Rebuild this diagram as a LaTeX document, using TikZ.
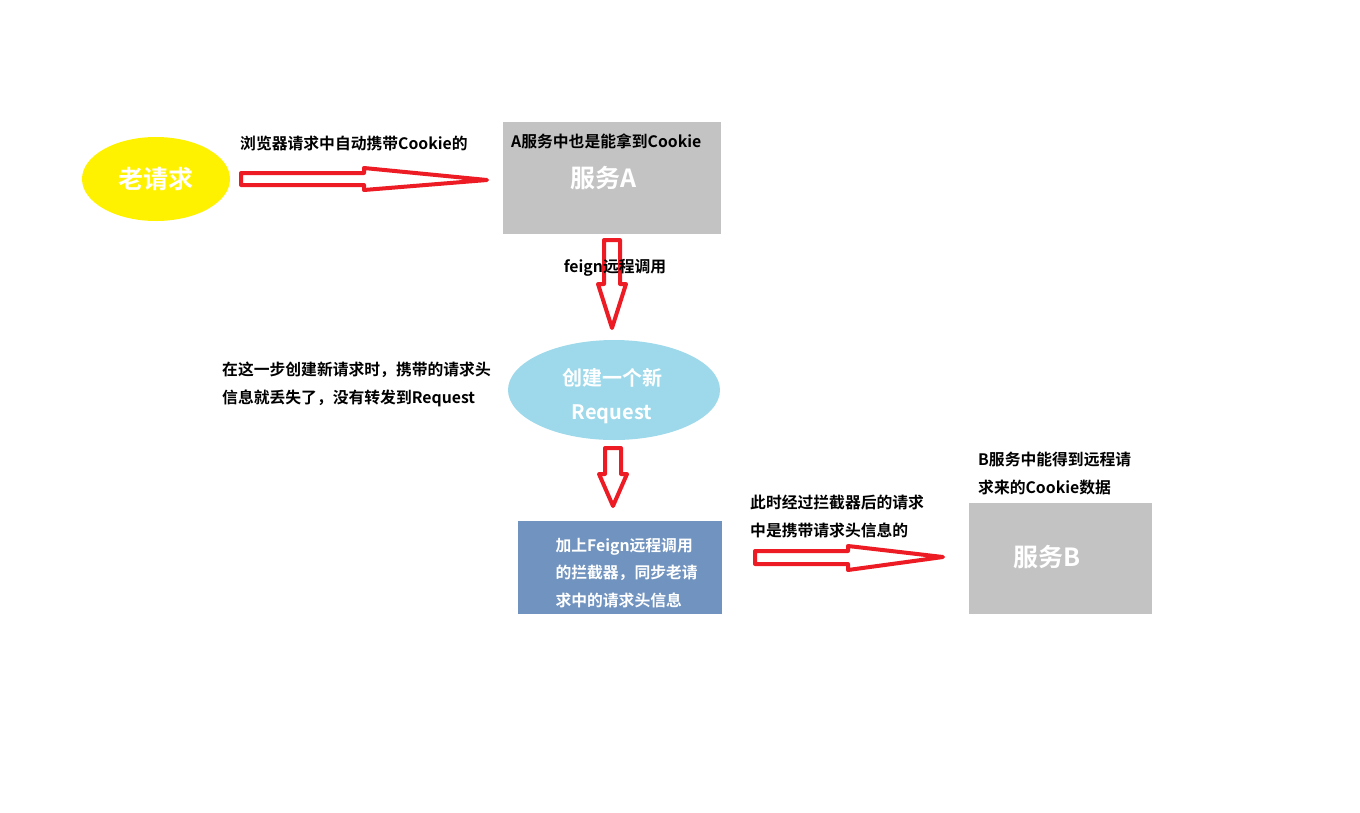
\documentclass[tikz,border=0pt]{standalone}
\usepackage{fontspec}
\usetikzlibrary{shapes.geometric}
\setmainfont{Noto Sans CJK SC}[BoldFont={Noto Sans CJK SC Bold}]
\definecolor{rr}{HTML}{ED1C24}
\definecolor{gA}{HTML}{C3C3C3}
\definecolor{yy}{HTML}{FFF200}
\definecolor{lb}{HTML}{9DD9EA}
\definecolor{sb}{HTML}{7193BF}
\begin{document}
\begin{tikzpicture}[x=1pt,y=-1pt,
  fat/.style={draw=rr,line width=4pt,line join=round,fill=white},
  lab/.style={font=\bfseries\fontsize{15.8}{27.5}\selectfont,text=black,align=left,inner sep=0pt},
  big/.style={font=\bfseries\fontsize{25}{28}\selectfont,text=white},
  mid/.style={font=\bfseries\fontsize{20}{34}\selectfont,text=white,align=center},
  small/.style={font=\bfseries\fontsize{15.8}{27.5}\selectfont,text=white,align=left}]
\useasboundingbox (0,0) rectangle (1360,812);
\node[ellipse,fill=yy,minimum width=148,minimum height=84,inner sep=0] (old) at (156,179) {};
\node[big] at (old) {老请求};
\node[fill=gA,minimum width=218,minimum height=112,inner sep=0] (A) at (612,178) {};
\node[big] at (604,178) {服务A};
\node[lab,anchor=west] at (511,141) {A服务中也是能拿到Cookie};
\node[lab,anchor=west] at (240,143) {浏览器请求中自动携带Cookie的};
\draw[fat] (241,173) -- (364,173) -- (364,168) -- (487,180) -- (364,190) -- (364,185) -- (241,185) -- cycle;
\draw[fat] (604,240) -- (620,240) -- (620,284) -- (626,284) -- (612,328) -- (598,284) -- (604,284) -- cycle;
\node[lab] at (615,268) {feign远程调用};
\node[ellipse,fill=lb,minimum width=212,minimum height=100,inner sep=0] (R) at (614,390) {};
\node[mid] at (612,396) {创建一个新\\Request};
\node[lab,anchor=north west] at (222,362) {在这一步创建新请求时，携带的请求头\\信息就丢失了，没有转发到Request};
\draw[fat] (605,448) -- (621,448) -- (621,474) -- (627,474) -- (613,506) -- (599,474) -- (605,474) -- cycle;
\node[fill=sb,minimum width=204,minimum height=93,inner sep=0] (F) at (620,567.5) {};
\node[small,anchor=west] at (552,573) {加上Feign远程调用\\的拦截器，同步老请\\求中的请求头信息};
\node[lab,anchor=north west] at (750,495) {此时经过拦截器后的请求\\中是携带请求头信息的};
\draw[fat] (755,551) -- (848,551) -- (848,546) -- (943,557) -- (848,570) -- (848,564) -- (755,564) -- cycle;
\node[fill=gA,minimum width=183,minimum height=111,inner sep=0] (B) at (1060.5,558.5) {};
\node[big] at (1047,557) {服务B};
\node[lab,anchor=north west] at (978,452) {B服务中能得到远程请\\求来的Cookie数据};
\end{tikzpicture}
\end{document}
